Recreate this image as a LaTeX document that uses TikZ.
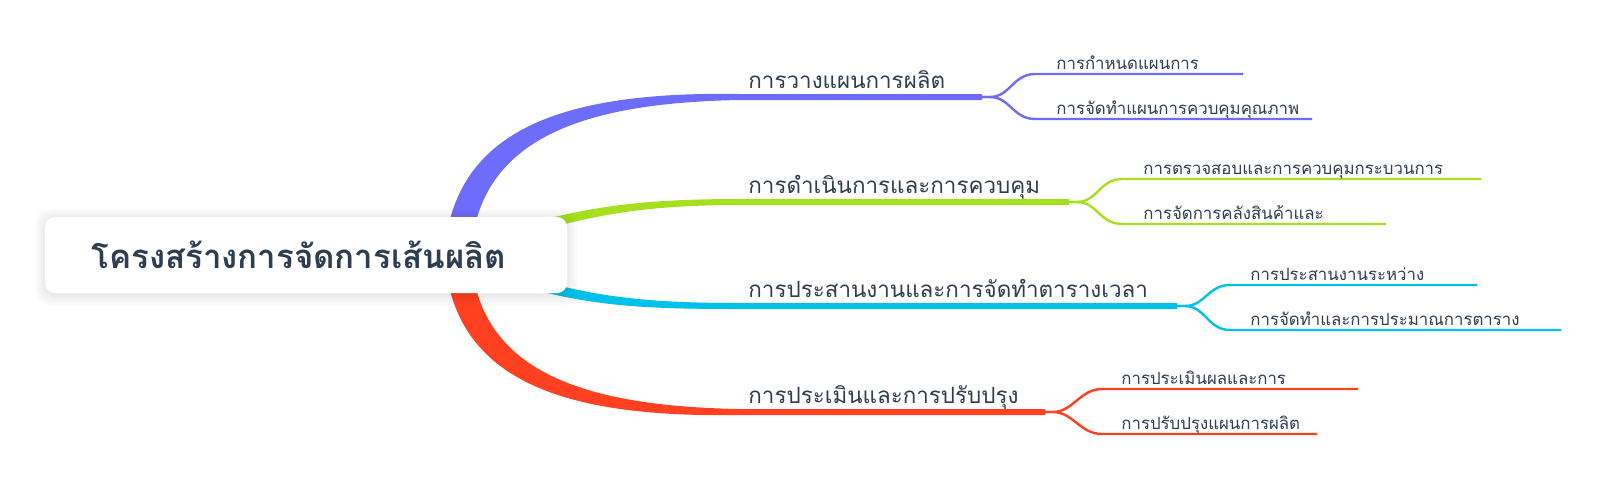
\documentclass[tikz,border=0pt]{standalone}
\usepackage{fontspec}
\setmainfont[Script=Thai]{Loma}
\usetikzlibrary{positioning}

\definecolor{planblue}{HTML}{6E6CFA}
\definecolor{opsgreen}{HTML}{A5E01F}
\definecolor{syncyan}{HTML}{00C1E9}
\definecolor{evalred}{HTML}{FF4122}
\definecolor{inkdark}{HTML}{2E3D50}

\begin{document}
\begin{tikzpicture}[x=0.5pt,y=-0.5pt,
  root node/.style={fill=white,rounded corners=5pt,minimum width=261pt,
    minimum height=38pt,inner sep=0pt},
  root text/.style={inner sep=0pt,text=inkdark,
    font=\fontsize{16.5}{20}\selectfont\bfseries},
  glow/.style={fill=black,opacity=0.016,rounded corners=7pt},
  topic/.style={anchor=base west,inner sep=0pt,text=inkdark,
    font=\fontsize{11.2}{14}\selectfont},
  subtopic/.style={anchor=base west,inner sep=0pt,text=inkdark,
    font=\fontsize{8.4}{10}\selectfont},
  twig/.style={line width=1.2pt}]

  \useasboundingbox (0,0) rectangle (1607,495);

  % tapered arms first, so the root box covers where they start
  \fill[planblue] (444,270) .. controls (444,130) and (560,91) .. (740,94) -- (982,94)
    -- (982,100) -- (740,100) .. controls (560,103) and (470,150) .. (470,270) -- cycle;
  \fill[opsgreen] (450,249) .. controls (560,210) and (620,199) .. (740,199) -- (1069,199)
    -- (1069,205) -- (740,205) .. controls (620,205) and (560,221) .. (450,261) -- cycle;
  \fill[syncyan] (450,249) .. controls (560,293) and (620,303) .. (740,303) -- (1177,303)
    -- (1177,309) -- (740,309) .. controls (620,309) and (560,305) .. (450,261) -- cycle;
  \fill[evalred] (444,240) .. controls (444,380) and (560,418) .. (740,415) -- (1045,415)
    -- (1045,409) -- (740,409) .. controls (560,406) and (470,360) .. (470,240) -- cycle;

  % soft glow round the root box
  \foreach \g in {2,4,6,8,10}
    \fill[glow] (45-\g,217-\g+2) rectangle (567+\g,293+\g+2);

  \node[root node] (root) at (306,255) {};
  \node[root text] (root txt) at ([xshift=-3.5pt]root.center) {โครงสร้างการจัดการเส้นผลิต};

  \node[topic] (plan) at (748,88) {การวางแผนการผลิต};
  \node[topic] (ops) at (748,193) {การดำเนินการและการควบคุม};
  \node[topic] (sync) at (748,297) {การประสานงานและการจัดทำตารางเวลา};
  \node[topic] (eval) at (748,403) {การประเมินและการปรับปรุง};

  % fork points and twig ends
  \coordinate (plan fork) at (982,97);
  \coordinate (plan a) at (1035,74);  \coordinate (plan a end) at (1243,74);
  \coordinate (plan b) at (1035,119); \coordinate (plan b end) at (1312,119);
  \coordinate (ops fork) at (1069,202);
  \coordinate (ops a) at (1122,179);  \coordinate (ops a end) at (1481,179);
  \coordinate (ops b) at (1122,224);  \coordinate (ops b end) at (1386,224);
  \coordinate (sync fork) at (1177,306);
  \coordinate (sync a) at (1230,285); \coordinate (sync a end) at (1477,285);
  \coordinate (sync b) at (1230,330); \coordinate (sync b end) at (1561,330);
  \coordinate (eval fork) at (1045,412);
  \coordinate (eval a) at (1102,389); \coordinate (eval a end) at (1358,389);
  \coordinate (eval b) at (1102,434); \coordinate (eval b end) at (1317,434);

  \draw[twig,planblue] (plan fork) -- ++(8,0) .. controls +(20,0) and +(-22,0) .. (plan a) -- (plan a end);
  \draw[twig,planblue] (plan fork) -- ++(8,0) .. controls +(20,0) and +(-22,0) .. (plan b) -- (plan b end);
  \draw[twig,opsgreen] (ops fork) -- ++(8,0) .. controls +(20,0) and +(-22,0) .. (ops a) -- (ops a end);
  \draw[twig,opsgreen] (ops fork) -- ++(8,0) .. controls +(20,0) and +(-22,0) .. (ops b) -- (ops b end);
  \draw[twig,syncyan] (sync fork) -- ++(8,0) .. controls +(20,0) and +(-22,0) .. (sync a) -- (sync a end);
  \draw[twig,syncyan] (sync fork) -- ++(8,0) .. controls +(20,0) and +(-22,0) .. (sync b) -- (sync b end);
  \draw[twig,evalred] (eval fork) -- ++(8,0) .. controls +(20,0) and +(-22,0) .. (eval a) -- (eval a end);
  \draw[twig,evalred] (eval fork) -- ++(8,0) .. controls +(20,0) and +(-22,0) .. (eval b) -- (eval b end);

  \node[subtopic] (plan a txt) at (1056,69) {การกำหนดแผนการ};
  \node[subtopic] (plan b txt) at (1056,114) {การจัดทำแผนการควบคุมคุณภาพ};
  \node[subtopic] (ops a txt) at (1143,174) {การตรวจสอบและการควบคุมกระบวนการ};
  \node[subtopic] (ops b txt) at (1143,219) {การจัดการคลังสินค้าและ};
  \node[subtopic] (sync a txt) at (1250,280) {การประสานงานระหว่าง};
  \node[subtopic] (sync b txt) at (1250,325) {การจัดทำและการประมาณการตาราง};
  \node[subtopic] (eval a txt) at (1121,384) {การประเมินผลและการ};
  \node[subtopic] (eval b txt) at (1121,429) {การปรับปรุงแผนการผลิต};
\end{tikzpicture}
\end{document}
